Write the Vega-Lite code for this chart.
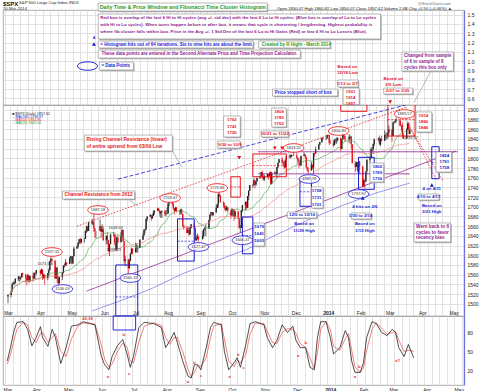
{
"$schema":"https://vega.github.io/schema/vega-lite/v6.json",
"padding":{"left":2,"top":0,"right":2,"bottom":1},
"background":"white",
"config":{"view":{"stroke":"#9a9a9a","strokeWidth":0.8},"font":"Liberation Sans","axis":{"labelFont":"Liberation Sans","labelFontSize":5,"labelColor":"#222","ticks":false,"domain":false,"gridColor":"#d6d6d6","gridWidth":0.7,"title":null},"axisY":{"labelOverlap":false,"labelSeparation":0},"text":{"font":"Liberation Sans"}},
"datasets":{
"px":[
{"d":"2013-03-01","o":1515,"h":1519,"l":1501,"c":1518},{"d":"2013-03-04","o":1518,"h":1525,"l":1513,"c":1525},{"d":"2013-03-05","o":1525,"h":1544,"l":1525,"c":1540},{"d":"2013-03-06","o":1540,"h":1546,"l":1538,"c":1542},{"d":"2013-03-07","o":1542,"h":1546,"l":1539,"c":1544},{"d":"2013-03-08","o":1544,"h":1553,"l":1541,"c":1551},{"d":"2013-03-11","o":1551,"h":1557,"l":1547,"c":1556},{"d":"2013-03-12","o":1556,"h":1556,"l":1545,"c":1552},{"d":"2013-03-13","o":1552,"h":1556,"l":1548,"c":1554},{"d":"2013-03-14","o":1554,"h":1563,"l":1554,"c":1563},{"d":"2013-03-15","o":1563,"h":1564,"l":1555,"c":1561},{"d":"2013-03-18","o":1561,"h":1561,"l":1544,"c":1552},{"d":"2013-03-19","o":1552,"h":1557,"l":1538,"c":1548},{"d":"2013-03-20","o":1548,"h":1562,"l":1548,"c":1559},{"d":"2013-03-21","o":1559,"h":1559,"l":1542,"c":1546},{"d":"2013-03-22","o":1546,"h":1557,"l":1546,"c":1557},{"d":"2013-03-25","o":1557,"h":1564,"l":1546,"c":1552},{"d":"2013-03-26","o":1552,"h":1564,"l":1552,"c":1564},{"d":"2013-03-27","o":1564,"h":1564,"l":1551,"c":1563},{"d":"2013-03-28","o":1563,"h":1570,"l":1559,"c":1569},
{"d":"2013-04-01","o":1569,"h":1570,"l":1558,"c":1562},{"d":"2013-04-02","o":1562,"h":1573,"l":1562,"c":1570},{"d":"2013-04-03","o":1570,"h":1571,"l":1549,"c":1554},{"d":"2013-04-04","o":1554,"h":1562,"l":1552,"c":1560},{"d":"2013-04-05","o":1560,"h":1560,"l":1539,"c":1553},{"d":"2013-04-08","o":1553,"h":1563,"l":1549,"c":1563},{"d":"2013-04-09","o":1563,"h":1573,"l":1557,"c":1569},{"d":"2013-04-10","o":1569,"h":1589,"l":1569,"c":1588},{"d":"2013-04-11","o":1588,"h":1597,"l":1586,"c":1593},{"d":"2013-04-12","o":1593,"h":1593,"l":1580,"c":1589},{"d":"2013-04-15","o":1589,"h":1589,"l":1552,"c":1552},{"d":"2013-04-16","o":1552,"h":1575,"l":1552,"c":1575},{"d":"2013-04-17","o":1575,"h":1575,"l":1543,"c":1552},{"d":"2013-04-18","o":1552,"h":1556,"l":1536,"c":1542},{"d":"2013-04-19","o":1542,"h":1556,"l":1542,"c":1555},{"d":"2013-04-22","o":1555,"h":1565,"l":1549,"c":1563},{"d":"2013-04-23","o":1563,"h":1579,"l":1563,"c":1579},{"d":"2013-04-24","o":1579,"h":1583,"l":1575,"c":1579},{"d":"2013-04-25","o":1579,"h":1592,"l":1579,"c":1585},{"d":"2013-04-26","o":1585,"h":1586,"l":1577,"c":1582},{"d":"2013-04-29","o":1582,"h":1597,"l":1582,"c":1594},{"d":"2013-04-30","o":1594,"h":1598,"l":1587,"c":1598},
{"d":"2013-05-01","o":1598,"h":1598,"l":1581,"c":1583},{"d":"2013-05-02","o":1583,"h":1598,"l":1583,"c":1598},{"d":"2013-05-03","o":1598,"h":1618,"l":1598,"c":1614},{"d":"2013-05-06","o":1614,"h":1620,"l":1613,"c":1618},{"d":"2013-05-07","o":1618,"h":1627,"l":1615,"c":1626},{"d":"2013-05-08","o":1626,"h":1633,"l":1623,"c":1633},{"d":"2013-05-09","o":1633,"h":1636,"l":1623,"c":1627},{"d":"2013-05-10","o":1627,"h":1634,"l":1624,"c":1634},{"d":"2013-05-13","o":1634,"h":1636,"l":1626,"c":1634},{"d":"2013-05-14","o":1634,"h":1651,"l":1634,"c":1650},{"d":"2013-05-15","o":1650,"h":1661,"l":1646,"c":1659},{"d":"2013-05-16","o":1659,"h":1661,"l":1648,"c":1650},{"d":"2013-05-17","o":1650,"h":1668,"l":1650,"c":1668},{"d":"2013-05-20","o":1668,"h":1672,"l":1664,"c":1666},{"d":"2013-05-21","o":1666,"h":1675,"l":1662,"c":1669},{"d":"2013-05-22","o":1669,"h":1687,"l":1648,"c":1655},{"d":"2013-05-23","o":1655,"h":1656,"l":1636,"c":1650},{"d":"2013-05-24","o":1650,"h":1650,"l":1635,"c":1650},{"d":"2013-05-28","o":1650,"h":1674,"l":1650,"c":1660},{"d":"2013-05-29","o":1660,"h":1660,"l":1636,"c":1648},{"d":"2013-05-30","o":1648,"h":1664,"l":1648,"c":1654},{"d":"2013-05-31","o":1654,"h":1660,"l":1630,"c":1631},
{"d":"2013-06-03","o":1631,"h":1641,"l":1622,"c":1640},{"d":"2013-06-04","o":1640,"h":1647,"l":1623,"c":1631},{"d":"2013-06-05","o":1631,"h":1632,"l":1606,"c":1609},{"d":"2013-06-06","o":1609,"h":1623,"l":1598,"c":1623},{"d":"2013-06-07","o":1623,"h":1644,"l":1623,"c":1643},{"d":"2013-06-10","o":1643,"h":1648,"l":1639,"c":1643},{"d":"2013-06-11","o":1643,"h":1643,"l":1621,"c":1626},{"d":"2013-06-12","o":1626,"h":1641,"l":1610,"c":1612},{"d":"2013-06-13","o":1612,"h":1639,"l":1608,"c":1636},{"d":"2013-06-14","o":1636,"h":1641,"l":1625,"c":1627},{"d":"2013-06-17","o":1627,"h":1648,"l":1627,"c":1639},{"d":"2013-06-18","o":1639,"h":1654,"l":1639,"c":1652},{"d":"2013-06-19","o":1652,"h":1653,"l":1628,"c":1629},{"d":"2013-06-20","o":1629,"h":1629,"l":1583,"c":1588},{"d":"2013-06-21","o":1588,"h":1599,"l":1577,"c":1592},{"d":"2013-06-24","o":1592,"h":1592,"l":1560,"c":1573},{"d":"2013-06-25","o":1573,"h":1593,"l":1573,"c":1588},{"d":"2013-06-26","o":1588,"h":1605,"l":1588,"c":1603},{"d":"2013-06-27","o":1603,"h":1616,"l":1603,"c":1613},{"d":"2013-06-28","o":1613,"h":1615,"l":1601,"c":1606},
{"d":"2013-07-01","o":1606,"h":1626,"l":1606,"c":1614},{"d":"2013-07-02","o":1614,"h":1624,"l":1606,"c":1614},{"d":"2013-07-03","o":1614,"h":1621,"l":1605,"c":1615},{"d":"2013-07-05","o":1615,"h":1633,"l":1615,"c":1632},{"d":"2013-07-08","o":1632,"h":1645,"l":1632,"c":1641},{"d":"2013-07-09","o":1641,"h":1654,"l":1641,"c":1652},{"d":"2013-07-10","o":1652,"h":1655,"l":1646,"c":1653},{"d":"2013-07-11","o":1653,"h":1676,"l":1653,"c":1675},{"d":"2013-07-12","o":1675,"h":1680,"l":1670,"c":1680},{"d":"2013-07-15","o":1680,"h":1685,"l":1679,"c":1683},{"d":"2013-07-16","o":1683,"h":1683,"l":1671,"c":1676},{"d":"2013-07-17","o":1676,"h":1685,"l":1676,"c":1681},{"d":"2013-07-18","o":1681,"h":1693,"l":1681,"c":1689},{"d":"2013-07-19","o":1689,"h":1692,"l":1684,"c":1692},{"d":"2013-07-22","o":1692,"h":1698,"l":1692,"c":1696},{"d":"2013-07-23","o":1696,"h":1698,"l":1690,"c":1692},{"d":"2013-07-24","o":1692,"h":1694,"l":1680,"c":1686},{"d":"2013-07-25","o":1686,"h":1691,"l":1677,"c":1690},{"d":"2013-07-26","o":1690,"h":1692,"l":1677,"c":1692},{"d":"2013-07-29","o":1692,"h":1692,"l":1681,"c":1685},{"d":"2013-07-30","o":1685,"h":1693,"l":1680,"c":1686},{"d":"2013-07-31","o":1686,"h":1698,"l":1684,"c":1686},
{"d":"2013-08-01","o":1686,"h":1707,"l":1686,"c":1707},{"d":"2013-08-02","o":1707,"h":1710,"l":1701,"c":1710},{"d":"2013-08-05","o":1710,"h":1710,"l":1703,"c":1707},{"d":"2013-08-06","o":1707,"h":1707,"l":1694,"c":1697},{"d":"2013-08-07","o":1697,"h":1697,"l":1684,"c":1691},{"d":"2013-08-08","o":1691,"h":1700,"l":1691,"c":1698},{"d":"2013-08-09","o":1698,"h":1700,"l":1688,"c":1691},{"d":"2013-08-12","o":1691,"h":1693,"l":1684,"c":1690},{"d":"2013-08-13","o":1690,"h":1696,"l":1684,"c":1694},{"d":"2013-08-14","o":1694,"h":1696,"l":1684,"c":1685},{"d":"2013-08-15","o":1685,"h":1685,"l":1658,"c":1661},{"d":"2013-08-16","o":1661,"h":1663,"l":1652,"c":1656},{"d":"2013-08-19","o":1656,"h":1660,"l":1646,"c":1646},{"d":"2013-08-20","o":1646,"h":1659,"l":1646,"c":1652},{"d":"2013-08-21","o":1652,"h":1659,"l":1640,"c":1643},{"d":"2013-08-22","o":1643,"h":1659,"l":1643,"c":1657},{"d":"2013-08-23","o":1657,"h":1664,"l":1655,"c":1664},{"d":"2013-08-26","o":1664,"h":1669,"l":1656,"c":1657},{"d":"2013-08-27","o":1657,"h":1657,"l":1630,"c":1631},{"d":"2013-08-28","o":1631,"h":1641,"l":1629,"c":1635},{"d":"2013-08-29","o":1635,"h":1645,"l":1632,"c":1638},{"d":"2013-08-30","o":1638,"h":1641,"l":1627,"c":1633},
{"d":"2013-09-03","o":1633,"h":1651,"l":1633,"c":1640},{"d":"2013-09-04","o":1640,"h":1655,"l":1637,"c":1653},{"d":"2013-09-05","o":1653,"h":1658,"l":1651,"c":1655},{"d":"2013-09-06","o":1655,"h":1664,"l":1640,"c":1655},{"d":"2013-09-09","o":1655,"h":1673,"l":1655,"c":1672},{"d":"2013-09-10","o":1672,"h":1684,"l":1672,"c":1684},{"d":"2013-09-11","o":1684,"h":1689,"l":1681,"c":1689},{"d":"2013-09-12","o":1689,"h":1689,"l":1680,"c":1683},{"d":"2013-09-13","o":1683,"h":1689,"l":1681,"c":1688},{"d":"2013-09-16","o":1688,"h":1704,"l":1688,"c":1698},{"d":"2013-09-17","o":1698,"h":1706,"l":1697,"c":1705},{"d":"2013-09-18","o":1705,"h":1729,"l":1698,"c":1726},{"d":"2013-09-19","o":1726,"h":1730,"l":1720,"c":1722},{"d":"2013-09-20","o":1722,"h":1725,"l":1708,"c":1710},{"d":"2013-09-23","o":1710,"h":1711,"l":1698,"c":1702},{"d":"2013-09-24","o":1702,"h":1708,"l":1693,"c":1697},{"d":"2013-09-25","o":1697,"h":1702,"l":1690,"c":1693},{"d":"2013-09-26","o":1693,"h":1703,"l":1693,"c":1699},{"d":"2013-09-27","o":1699,"h":1699,"l":1688,"c":1692},{"d":"2013-09-30","o":1692,"h":1692,"l":1675,"c":1682},
{"d":"2013-10-01","o":1682,"h":1697,"l":1682,"c":1695},{"d":"2013-10-02","o":1695,"h":1696,"l":1680,"c":1694},{"d":"2013-10-03","o":1694,"h":1694,"l":1671,"c":1679},{"d":"2013-10-04","o":1679,"h":1692,"l":1675,"c":1691},{"d":"2013-10-07","o":1691,"h":1691,"l":1675,"c":1676},{"d":"2013-10-08","o":1676,"h":1677,"l":1655,"c":1656},{"d":"2013-10-09","o":1656,"h":1662,"l":1646,"c":1656},{"d":"2013-10-10","o":1656,"h":1693,"l":1656,"c":1693},{"d":"2013-10-11","o":1693,"h":1704,"l":1689,"c":1703},{"d":"2013-10-14","o":1703,"h":1711,"l":1692,"c":1710},{"d":"2013-10-15","o":1710,"h":1711,"l":1695,"c":1698},{"d":"2013-10-16","o":1698,"h":1722,"l":1698,"c":1722},{"d":"2013-10-17","o":1722,"h":1734,"l":1714,"c":1733},{"d":"2013-10-18","o":1733,"h":1745,"l":1733,"c":1745},{"d":"2013-10-21","o":1745,"h":1747,"l":1739,"c":1745},{"d":"2013-10-22","o":1745,"h":1759,"l":1743,"c":1755},{"d":"2013-10-23","o":1755,"h":1755,"l":1738,"c":1746},{"d":"2013-10-24","o":1746,"h":1753,"l":1743,"c":1752},{"d":"2013-10-25","o":1752,"h":1760,"l":1752,"c":1760},{"d":"2013-10-28","o":1760,"h":1764,"l":1758,"c":1762},{"d":"2013-10-29","o":1762,"h":1772,"l":1762,"c":1772},{"d":"2013-10-30","o":1772,"h":1775,"l":1758,"c":1763},{"d":"2013-10-31","o":1763,"h":1768,"l":1754,"c":1757},
{"d":"2013-11-01","o":1757,"h":1766,"l":1753,"c":1762},{"d":"2013-11-04","o":1762,"h":1768,"l":1760,"c":1768},{"d":"2013-11-05","o":1768,"h":1768,"l":1756,"c":1763},{"d":"2013-11-06","o":1763,"h":1771,"l":1763,"c":1771},{"d":"2013-11-07","o":1771,"h":1774,"l":1746,"c":1747},{"d":"2013-11-08","o":1747,"h":1771,"l":1746,"c":1771},{"d":"2013-11-11","o":1771,"h":1773,"l":1768,"c":1772},{"d":"2013-11-12","o":1772,"h":1772,"l":1764,"c":1768},{"d":"2013-11-13","o":1768,"h":1782,"l":1760,"c":1782},{"d":"2013-11-14","o":1782,"h":1791,"l":1780,"c":1791},{"d":"2013-11-15","o":1791,"h":1799,"l":1790,"c":1798},{"d":"2013-11-18","o":1798,"h":1803,"l":1790,"c":1792},{"d":"2013-11-19","o":1792,"h":1795,"l":1784,"c":1788},{"d":"2013-11-20","o":1788,"h":1794,"l":1777,"c":1781},{"d":"2013-11-21","o":1781,"h":1798,"l":1781,"c":1796},{"d":"2013-11-22","o":1796,"h":1805,"l":1795,"c":1805},{"d":"2013-11-25","o":1805,"h":1808,"l":1800,"c":1803},{"d":"2013-11-26","o":1803,"h":1808,"l":1800,"c":1803},{"d":"2013-11-27","o":1803,"h":1808,"l":1802,"c":1807},{"d":"2013-11-29","o":1807,"h":1814,"l":1805,"c":1806},
{"d":"2013-12-02","o":1806,"h":1811,"l":1799,"c":1801},{"d":"2013-12-03","o":1801,"h":1801,"l":1788,"c":1795},{"d":"2013-12-04","o":1795,"h":1800,"l":1779,"c":1793},{"d":"2013-12-05","o":1793,"h":1796,"l":1783,"c":1785},{"d":"2013-12-06","o":1785,"h":1806,"l":1785,"c":1805},{"d":"2013-12-09","o":1805,"h":1812,"l":1805,"c":1808},{"d":"2013-12-10","o":1808,"h":1808,"l":1800,"c":1803},{"d":"2013-12-11","o":1803,"h":1803,"l":1780,"c":1782},{"d":"2013-12-12","o":1782,"h":1782,"l":1772,"c":1776},{"d":"2013-12-13","o":1776,"h":1781,"l":1768,"c":1775},{"d":"2013-12-16","o":1775,"h":1793,"l":1775,"c":1787},{"d":"2013-12-17","o":1787,"h":1787,"l":1777,"c":1781},{"d":"2013-12-18","o":1781,"h":1811,"l":1768,"c":1811},{"d":"2013-12-19","o":1811,"h":1812,"l":1803,"c":1810},{"d":"2013-12-20","o":1810,"h":1824,"l":1810,"c":1818},{"d":"2013-12-23","o":1818,"h":1829,"l":1818,"c":1828},{"d":"2013-12-24","o":1828,"h":1834,"l":1828,"c":1833},{"d":"2013-12-26","o":1833,"h":1843,"l":1833,"c":1842},{"d":"2013-12-27","o":1842,"h":1844,"l":1839,"c":1841},{"d":"2013-12-30","o":1841,"h":1843,"l":1838,"c":1841},{"d":"2013-12-31","o":1841,"h":1849,"l":1841,"c":1848},
{"d":"2014-01-02","o":1848,"h":1848,"l":1827,"c":1832},{"d":"2014-01-03","o":1832,"h":1838,"l":1830,"c":1831},{"d":"2014-01-06","o":1831,"h":1837,"l":1823,"c":1827},{"d":"2014-01-07","o":1827,"h":1840,"l":1827,"c":1838},{"d":"2014-01-08","o":1838,"h":1841,"l":1831,"c":1837},{"d":"2014-01-09","o":1837,"h":1843,"l":1830,"c":1838},{"d":"2014-01-10","o":1838,"h":1843,"l":1834,"c":1842},{"d":"2014-01-13","o":1842,"h":1843,"l":1815,"c":1819},{"d":"2014-01-14","o":1819,"h":1839,"l":1819,"c":1839},{"d":"2014-01-15","o":1839,"h":1851,"l":1839,"c":1848},{"d":"2014-01-16","o":1848,"h":1848,"l":1842,"c":1846},{"d":"2014-01-17","o":1846,"h":1847,"l":1834,"c":1839},{"d":"2014-01-21","o":1839,"h":1850,"l":1831,"c":1844},{"d":"2014-01-22","o":1844,"h":1847,"l":1840,"c":1845},{"d":"2014-01-23","o":1845,"h":1845,"l":1820,"c":1829},{"d":"2014-01-24","o":1829,"h":1829,"l":1790,"c":1790},{"d":"2014-01-27","o":1790,"h":1794,"l":1772,"c":1782},{"d":"2014-01-28","o":1782,"h":1793,"l":1782,"c":1792},{"d":"2014-01-29","o":1792,"h":1792,"l":1771,"c":1774},{"d":"2014-01-30","o":1774,"h":1798,"l":1774,"c":1794},{"d":"2014-01-31","o":1794,"h":1794,"l":1770,"c":1783},
{"d":"2014-02-03","o":1783,"h":1784,"l":1740,"c":1742},{"d":"2014-02-04","o":1742,"h":1758,"l":1742,"c":1755},{"d":"2014-02-05","o":1755,"h":1755,"l":1738,"c":1752},{"d":"2014-02-06","o":1752,"h":1774,"l":1752,"c":1773},{"d":"2014-02-07","o":1773,"h":1798,"l":1773,"c":1797},{"d":"2014-02-10","o":1797,"h":1800,"l":1791,"c":1800},{"d":"2014-02-11","o":1800,"h":1823,"l":1800,"c":1819},{"d":"2014-02-12","o":1819,"h":1822,"l":1815,"c":1819},{"d":"2014-02-13","o":1819,"h":1830,"l":1809,"c":1830},{"d":"2014-02-14","o":1830,"h":1841,"l":1825,"c":1839},{"d":"2014-02-18","o":1839,"h":1843,"l":1835,"c":1841},{"d":"2014-02-19","o":1841,"h":1847,"l":1827,"c":1829},{"d":"2014-02-20","o":1829,"h":1842,"l":1825,"c":1840},{"d":"2014-02-21","o":1840,"h":1847,"l":1835,"c":1836},{"d":"2014-02-24","o":1836,"h":1858,"l":1836,"c":1848},{"d":"2014-02-25","o":1848,"h":1853,"l":1840,"c":1845},{"d":"2014-02-26","o":1845,"h":1853,"l":1839,"c":1845},{"d":"2014-02-27","o":1845,"h":1855,"l":1840,"c":1854},{"d":"2014-02-28","o":1854,"h":1868,"l":1848,"c":1860},
{"d":"2014-03-03","o":1860,"h":1860,"l":1834,"c":1846},{"d":"2014-03-04","o":1846,"h":1876,"l":1846,"c":1874},{"d":"2014-03-05","o":1874,"h":1876,"l":1871,"c":1874},{"d":"2014-03-06","o":1874,"h":1881,"l":1874,"c":1877},{"d":"2014-03-07","o":1877,"h":1884,"l":1874,"c":1878},{"d":"2014-03-10","o":1878,"h":1878,"l":1867,"c":1877},{"d":"2014-03-11","o":1877,"h":1882,"l":1866,"c":1868},{"d":"2014-03-12","o":1868,"h":1869,"l":1855,"c":1868},{"d":"2014-03-13","o":1868,"h":1874,"l":1841,"c":1846},{"d":"2014-03-14","o":1846,"h":1852,"l":1840,"c":1841},{"d":"2014-03-17","o":1841,"h":1862,"l":1841,"c":1859},{"d":"2014-03-18","o":1859,"h":1873,"l":1858,"c":1872},{"d":"2014-03-19","o":1872,"h":1875,"l":1850,"c":1861},{"d":"2014-03-20","o":1850,"h":1861,"l":1850,"c":1858}
],
"st":[
{"d":"2013-03-05","k":35,"s":30},{"d":"2013-03-08","k":56,"s":45},{"d":"2013-03-11","k":81,"s":66},{"d":"2013-03-14","k":96,"s":85},{"d":"2013-03-20","k":97,"s":96},{"d":"2013-03-24","k":85,"s":92},{"d":"2013-03-28","k":59,"s":72},{"d":"2013-04-01","k":72,"s":64},{"d":"2013-04-05","k":89,"s":78},{"d":"2013-04-07","k":72,"s":80},{"d":"2013-04-12","k":58,"s":65},{"d":"2013-04-16","k":85,"s":72},{"d":"2013-04-19","k":72,"s":78},{"d":"2013-04-24","k":31,"s":50},{"d":"2013-04-29","k":56,"s":42},{"d":"2013-05-04","k":90,"s":70},{"d":"2013-05-10","k":92,"s":90},{"d":"2013-05-15","k":97,"s":95},{"d":"2013-05-21","k":94,"s":95},{"d":"2013-05-26","k":92,"s":93},{"d":"2013-06-01","k":42,"s":60},{"d":"2013-06-04","k":29,"s":38},{"d":"2013-06-08","k":21,"s":25},{"d":"2013-06-11","k":42,"s":30},{"d":"2013-06-16","k":59,"s":50},{"d":"2013-06-21","k":69,"s":63},{"d":"2013-06-25","k":46,"s":57},{"d":"2013-06-28","k":25,"s":35},{"d":"2013-07-01","k":42,"s":32},{"d":"2013-07-06","k":88,"s":65},{"d":"2013-07-11","k":96,"s":90},{"d":"2013-07-20","k":94,"s":95},{"d":"2013-07-27","k":88,"s":91},{"d":"2013-07-31","k":56,"s":72},{"d":"2013-08-04","k":67,"s":61},{"d":"2013-08-08","k":80,"s":72},{"d":"2013-08-11","k":64,"s":72},{"d":"2013-08-16","k":35,"s":50},{"d":"2013-08-21","k":11,"s":22},{"d":"2013-08-24","k":8,"s":10},{"d":"2013-08-27","k":29,"s":17},{"d":"2013-08-30","k":29,"s":28},{"d":"2013-09-02","k":21,"s":26},{"d":"2013-09-07","k":56,"s":40},{"d":"2013-09-11","k":88,"s":72},{"d":"2013-09-14","k":96,"s":90},{"d":"2013-09-21","k":92,"s":94},{"d":"2013-09-24","k":50,"s":70},{"d":"2013-09-28","k":21,"s":35},{"d":"2013-10-03","k":32,"s":26},{"d":"2013-10-06","k":40,"s":36},{"d":"2013-10-09","k":25,"s":32},{"d":"2013-10-14","k":61,"s":45},{"d":"2013-10-18","k":94,"s":78},{"d":"2013-10-23","k":97,"s":95},{"d":"2013-10-31","k":92,"s":94},{"d":"2013-11-03","k":72,"s":82},{"d":"2013-11-08","k":56,"s":64},{"d":"2013-11-12","k":67,"s":62},{"d":"2013-11-17","k":92,"s":80},{"d":"2013-11-22","k":80,"s":86},{"d":"2013-11-27","k":90,"s":85},{"d":"2013-11-30","k":67,"s":78},{"d":"2013-12-04","k":56,"s":62},{"d":"2013-12-09","k":56,"s":56},{"d":"2013-12-13","k":25,"s":40},{"d":"2013-12-17","k":21,"s":23},{"d":"2013-12-20","k":72,"s":48},{"d":"2013-12-23","k":97,"s":85},{"d":"2013-12-28","k":97,"s":97},{"d":"2014-01-01","k":72,"s":85},{"d":"2014-01-04","k":46,"s":58},{"d":"2014-01-10","k":56,"s":52},{"d":"2014-01-15","k":83,"s":70},{"d":"2014-01-18","k":72,"s":78},{"d":"2014-01-21","k":35,"s":52},{"d":"2014-01-24","k":17,"s":26},{"d":"2014-01-29","k":17,"s":17},{"d":"2014-02-01","k":32,"s":24},{"d":"2014-02-04","k":72,"s":52},{"d":"2014-02-09","k":97,"s":85},{"d":"2014-02-13","k":94,"s":95},{"d":"2014-02-18","k":80,"s":87},{"d":"2014-02-23","k":75,"s":77},{"d":"2014-02-28","k":85,"s":80},{"d":"2014-03-03","k":80,"s":82},{"d":"2014-03-06","k":56,"s":68},{"d":"2014-03-11","k":42,"s":50},{"d":"2014-03-15","k":61,"s":52},{"d":"2014-03-20","k":40,"s":50}
],
"boxA":[
{"x1":"2013-05-29","x2":"2013-11-03","y1":1.625,"y2":1.539},
{"x1":"2013-05-29","x2":"2014-02-17","y1":1.507,"y2":1.239},
{"x1":"2013-05-29","x2":"2013-10-21","y1":1.217,"y2":1.142},
{"x1":"2013-10-26","x2":"2014-01-01","y1":1.217,"y2":1.142},
{"x1":"2013-05-29","x2":"2013-12-04","y1":1.12,"y2":1.034},
{"x1":"2013-05-30","x2":"2013-07-01","y1":0.991,"y2":0.906},
{"x1":"2014-03-09","x2":"2014-04-26","y1":1.099,"y2":0.895},
{"x1":"2014-01-08","x2":"2014-01-27","y1":0.798,"y2":0.723},
{"x1":"2014-01-13","x2":"2014-01-28","y1":0.712,"y2":0.533},
{"x1":"2013-11-08","x2":"2014-01-08","y1":0.701,"y2":0.626},
{"x1":"2014-02-20","x2":"2014-03-19","y1":0.712,"y2":0.648}
],
"boxB":[
{"x1":"2013-05-13","x2":"2013-08-05","y1":1848,"y2":1815},
{"x1":"2013-04-22","x2":"2013-06-30","y1":1732.6,"y2":1716},
{"x1":"2013-09-23","x2":"2013-10-09","y1":1887.3,"y2":1844},
{"x1":"2013-09-17","x2":"2013-10-09","y1":1835.7,"y2":1821.3},
{"x1":"2013-11-08","x2":"2013-11-22","y1":1903.8,"y2":1864.6},
{"x1":"2013-10-29","x2":"2013-11-24","y1":1856.4,"y2":1844},
{"x1":"2014-03-26","x2":"2014-04-10","y1":1895.6,"y2":1854.3},
{"x1":"2013-10-22","x2":"2013-11-01","y1":1666.6,"y2":1619},
{"x1":"2013-12-16","x2":"2013-12-27","y1":1740.8,"y2":1697.5},
{"x1":"2013-11-23","x2":"2013-12-21","y1":1689.3,"y2":1676.9},
{"x1":"2014-02-10","x2":"2014-02-23","y1":1790.3,"y2":1751.2},
{"x1":"2014-01-23","x2":"2014-02-11","y1":1687.2,"y2":1674.8},
{"x1":"2014-04-14","x2":"2014-04-29","y1":1813,"y2":1771.8},
{"x1":"2014-03-28","x2":"2014-04-17","y1":1726.4,"y2":1714},
{"x1":"2014-03-24","x2":"2014-04-28","y1":1666.6,"y2":1627.4}
]
},
"vconcat":[
{"width":461,"height":95,
"layer":[
{"data":{"name":"boxA"},"mark":{"type":"rect","fill":"#b5b5b5","xOffset":1.2,"x2Offset":1.2,"yOffset":1.2,"y2Offset":1.2},
"encoding":{"x":{"field":"x1","type":"temporal","scale":{"domain":[{"year":2013,"month":3,"date":1},{"year":2014,"month":5,"date":6}],"nice":false},"axis":{"orient":"bottom","labels":false,"grid":true,"tickCount":{"interval":"week","step":1}}},"x2":{"field":"x2"},
"y":{"field":"y1","type":"quantitative","scale":{"domain":[0.53,1.55],"nice":false,"zero":false},"axis":{"orient":"right","values":[0.6,0.7,0.8,0.9,1.0,1.1,1.2,1.3,1.4,1.5],"tickCount":50,"format":".1f","labelOverlap":false,"grid":true,"domain":true,"domainColor":"#6f6fe0","domainWidth":1.2,"labelPadding":3}},"y2":{"field":"y2"}}},
{"data":{"name":"boxA"},"mark":{"type":"rect","fill":"white","stroke":"#8a8a8a","strokeWidth":0.6},
"encoding":{"x":{"field":"x1","type":"temporal"},"x2":{"field":"x2"},"y":{"field":"y1","type":"quantitative"},"y2":{"field":"y2"}}},
{"data":{"values":[{"d":"2014-04-05","v":0.895},{"d":"2014-03-20","v":0.551}]},"mark":{"type":"line","color":"#888","strokeWidth":0.6},
"encoding":{"x":{"field":"d","type":"temporal"},"y":{"field":"v","type":"quantitative"}}},
{"data":{"values":[{"d":"2013-03-01","v":1.6467,"t":"$SPX"}]},"mark":{"type":"text","fontSize":6,"fontWeight":"bold","align":"left","baseline":"top","color":"#111"},
"encoding":{"x":{"field":"d","type":"temporal"},"y":{"field":"v","type":"quantitative"},"text":{"field":"t"}}},
{"data":{"values":[{"d":"2013-03-16","v":1.6198,"t":"S&P 500 Large Cap Index INDX"},{"d":"2013-03-01","v":1.5575,"t":"20-Mar-2014"},{"d":"2013-11-12","v":1.5575,"t":"Open 1850.07  High 1860.82  Low 1850.07  Close 1857.62  Volume 2.6B  Chg +0.50 (+0.46%) \u25b2"}]},"mark":{"type":"text","fontSize":4.2,"align":"left","color":"#222"},
"encoding":{"x":{"field":"d","type":"temporal"},"y":{"field":"v","type":"quantitative"},"text":{"field":"t"}}},
{"data":{"values":[{"d":"2014-03-24","v":1.6144,"t":"@StockCharts.com"}]},"mark":{"type":"text","fontSize":3.8,"align":"left","color":"#666"},
"encoding":{"x":{"field":"d","type":"temporal"},"y":{"field":"v","type":"quantitative"},"text":{"field":"t"}}},
{"data":{"values":[{"d":"2013-08-16","v":1.5822,"t":"Daily Time & Price Window and Fibonacci Time Cluster Histogram"}]},"mark":{"type":"text","fontSize":5.3,"fontWeight":"bold","align":"center","color":"#2c9a2c"},
"encoding":{"x":{"field":"d","type":"temporal"},"y":{"field":"v","type":"quantitative"},"text":{"field":"t"}}},
{"data":{"values":[
{"d":"2013-05-31","v":1.4673,"t":"Red box is overlap of the last 6 Hi to Hi cycles (avg +/- std dev) with the last 6 Lo to Hi cycles. (Blue box is overlap of Lo to Lo cycles","g":"note"},
{"d":"2013-05-31","v":1.3889,"t":"with Hi to Lo cycles). When turns happen before or after box, it means that cycle is shortening / lengthening. Highest probability is","g":"note"},
{"d":"2013-05-31","v":1.3169,"t":"where fib cluster falls within box. Price in the Avg +/- 1 Std Dev of the last 6 Lo to Hi Gains (Red) or last 6 Hi to Lo Losses (Blue).","g":"note"}]},
"mark":{"type":"text","fontSize":4.4,"fontWeight":"bold","align":"left"},
"encoding":{"x":{"field":"d","type":"temporal"},"y":{"field":"v","type":"quantitative"},"text":{"field":"t"},"color":{"field":"g","type":"nominal","scale":{"domain":["hi","lo","note","credit","plain"],"range":["#e8141c","#1b1bd1","#8e1b8e","#2c9a2c","#222222"]},"legend":null}}},
{"data":{"values":[
{"d":"2013-05-31","v":1.1794,"t":"= Histogram hits out of 64 iterations. Six to nine hits are about the limit.","g":"lo"},
{"d":"2013-10-29","v":1.1794,"t":"Created by R Hight - March 2014","g":"credit"},
{"d":"2013-06-01","v":1.0774,"t":"These data points are entered in the Second Alternate Price and Time Projection Calculator.","g":"note"},
{"d":"2013-06-01","v":0.9485,"t":"= Data Points","g":"lo"},
{"d":"2014-03-11","v":1.0613,"t":"Changed from sample","g":"note"},
{"d":"2014-03-11","v":0.9968,"t":"of 6 to sample of 8","g":"note"},
{"d":"2014-03-11","v":0.9324,"t":"cycles this box only","g":"note"},
{"d":"2013-11-10","v":0.6638,"t":"Price stopped short of box","g":"lo"}]},
"mark":{"type":"text","fontSize":4.5,"fontWeight":"bold","align":"left"},
"encoding":{"x":{"field":"d","type":"temporal"},"y":{"field":"v","type":"quantitative"},"text":{"field":"t"},"color":{"field":"g","type":"nominal","scale":{"domain":["hi","lo","note","credit","plain"],"range":["#e8141c","#1b1bd1","#8e1b8e","#2c9a2c","#222222"]},"legend":null}}},
{"data":{"values":[
{"d":"2013-05-25","v":1.2546,"t":"4","g":"lo"},
{"d":"2014-01-17","v":0.9378,"t":"Based on","g":"hi"},
{"d":"2014-01-17","v":0.8733,"t":"12/18 Low","g":"hi"},
{"d":"2014-01-17","v":0.7605,"t":"1/13 to 2/7","g":"hi"},
{"d":"2014-01-20","v":0.6692,"t":"1931","g":"hi"},
{"d":"2014-01-20","v":0.6048,"t":"1914","g":"hi"},
{"d":"2014-01-20","v":0.5403,"t":"1897","g":"hi"},
{"d":"2014-03-01","v":0.8142,"t":"Based on","g":"hi"},
{"d":"2014-03-01","v":0.7497,"t":"2/5 Low","g":"hi"},
{"d":"2014-03-05","v":0.68,"t":"2/27 to 3/25","g":"hi"}]},
"mark":{"type":"text","fontSize":4.4,"fontWeight":"bold","align":"center"},
"encoding":{"x":{"field":"d","type":"temporal"},"y":{"field":"v","type":"quantitative"},"text":{"field":"t"},"color":{"field":"g","type":"nominal","scale":{"domain":["hi","lo","note","credit","plain"],"range":["#e8141c","#1b1bd1","#8e1b8e","#2c9a2c","#222222"]},"legend":null}}},
{"data":{"values":[{"d":"2013-05-19","v":0.9485}]},"mark":{"type":"point","shape":"M-1,0A1,0.42,0,1,0,1,0A1,0.42,0,1,0,-1,0Z","size":400,"stroke":"#1b1bd1","strokeWidth":1,"filled":false,"opacity":1},
"encoding":{"x":{"field":"d","type":"temporal"},"y":{"field":"v","type":"quantitative"}}},
{"data":{"values":[{"d":"2013-05-25","v":1.1848,"g":"lo"},{"d":"2014-02-26","v":0.562,"g":"hi"}]},"mark":{"type":"point","filled":true,"size":16,"opacity":1},
"encoding":{"x":{"field":"d","type":"temporal"},"y":{"field":"v","type":"quantitative"},"shape":{"field":"g","type":"nominal","scale":{"domain":["hi","lo"],"range":["triangle-down","triangle-up"]},"legend":null},"color":{"field":"g","type":"nominal","scale":{"domain":["hi","lo","note","credit","plain"],"range":["#e8141c","#1b1bd1","#8e1b8e","#2c9a2c","#222222"]},"legend":null}}}
]},
{"width":461,"height":211,
"layer":[
{"data":{"name":"px"},"mark":{"type":"rule","strokeWidth":0.7},
"encoding":{"x":{"field":"d","type":"temporal","scale":{"domain":[{"year":2013,"month":3,"date":1},{"year":2014,"month":5,"date":6}],"nice":false},"axis":{"orient":"bottom","tickCount":{"interval":"day","step":1},"grid":true,"gridColor":{"condition":{"test":"day(datum.value)==0","value":"#d6d6d6"},"value":"transparent"},"labelExpr":"date(datum.value)==1 ? (month(datum.value)==0 ? '2014' : timeFormat(datum.value,'%b')) : ''","labelOverlap":false,"labelBound":false,"labelFlush":true,"labelPadding":-6,"labelFontWeight":{"condition":{"test":"month(datum.value)==0","value":"bold"},"value":"normal"}}},
"y":{"field":"l","type":"quantitative","scale":{"domain":[1474.7,1910],"nice":false,"zero":false},"axis":{"orient":"right","values":[1500,1520,1540,1560,1580,1600,1620,1640,1660,1680,1700,1720,1740,1760,1780,1800,1820,1840,1860,1880,1900],"tickCount":50,"format":"d","labelOverlap":false,"labelSeparation":0,"grid":true,"domain":true,"domainColor":"#6f6fe0","domainWidth":1.2,"labelPadding":3}},"y2":{"field":"h"},
"color":{"condition":{"test":"datum.c < datum.o","value":"#e3121b"},"value":"#222"}}},
{"mark":{"type":"rect","fill":"white"},"encoding":{"y":{"datum":1485,"type":"quantitative"},"y2":{"datum":1474.7}}},
{"mark":{"type":"rule","color":"#9a9a9a","strokeWidth":0.8},"encoding":{"y":{"datum":1485,"type":"quantitative"}}},
{"data":{"name":"px"},"mark":{"type":"bar","width":1.3},
"encoding":{"x":{"field":"d","type":"temporal"},"y":{"field":"o","type":"quantitative"},"y2":{"field":"c"},"color":{"condition":{"test":"datum.c < datum.o","value":"#e3121b"},"value":"#222"}}},
{"data":{"name":"px"},"transform":[{"window":[{"op":"mean","field":"c","as":"m"}],"frame":[-19,0],"sort":[{"field":"d"}]}],"mark":{"type":"line","color":"#3c9a3c","strokeWidth":0.6,"clip":true},
"encoding":{"x":{"field":"d","type":"temporal"},"y":{"field":"m","type":"quantitative"}}},
{"data":{"name":"px"},"transform":[{"window":[{"op":"mean","field":"c","as":"m"}],"frame":[-49,0],"sort":[{"field":"d"}]}],"mark":{"type":"line","color":"#ee7777","strokeWidth":0.6,"clip":true},
"encoding":{"x":{"field":"d","type":"temporal"},"y":{"field":"m","type":"quantitative"}}},
{"data":{"values":[{"d":"2013-05-20","m":1485},{"d":"2013-06-15","m":1505},{"d":"2013-07-15","m":1530},{"d":"2013-08-15","m":1562},{"d":"2013-09-15","m":1588},{"d":"2013-10-15","m":1612},{"d":"2013-11-15","m":1645},{"d":"2013-12-15","m":1675},{"d":"2014-01-15","m":1703},{"d":"2014-02-15","m":1728},{"d":"2014-03-20","m":1749}]},"mark":{"type":"line","color":"#5555e0","strokeWidth":0.6,"clip":true},
"encoding":{"x":{"field":"d","type":"temporal"},"y":{"field":"m","type":"quantitative"}}},
{"data":{"values":[
{"id":"r1","g":"dot","d":"2013-05-06","p":1660},{"id":"r1","g":"dot","d":"2014-03-17","p":1906},
{"id":"r2","g":"dash","d":"2013-06-14","p":1757},{"id":"r2","g":"dash","d":"2014-03-16","p":1910},
{"id":"r3","g":"dot","d":"2014-03-15","p":1887},{"id":"r3","g":"dot","d":"2014-04-14","p":1757},
{"id":"r4","g":"dot","d":"2014-03-20","p":1862},{"id":"r4","g":"dot","d":"2014-04-21","p":1753},
{"id":"b1","g":"sup","d":"2013-05-15","p":1526},{"id":"b1","g":"sup","d":"2014-05-03","p":1815},
{"id":"b2","g":"sup","d":"2013-10-26","p":1813.55},{"id":"b2","g":"sup","d":"2014-05-05","p":1813.55},
{"id":"b3","g":"sup","d":"2013-10-26","p":1767.99},{"id":"b3","g":"sup","d":"2014-03-20","p":1767.99}]},
"mark":{"type":"line","strokeWidth":0.8,"clip":true},
"encoding":{"x":{"field":"d","type":"temporal"},"y":{"field":"p","type":"quantitative"},"detail":{"field":"id"},
"color":{"field":"g","type":"nominal","scale":{"domain":["hi","lo","note","credit","plain","dot","dash","sup"],"range":["#e8141c","#1b1bd1","#8e1b8e","#2c9a2c","#222222","#f03030","#f03030","#4646e6"]},"legend":null},
"strokeDash":{"field":"g","type":"nominal","scale":{"domain":["dot","dash","sup"],"range":[[1.5,1.5],[4,2],[1,0]]},"legend":null}}},
{"data":{"values":[
{"x1":"2013-06-12","x2":"2013-07-03","y1":1580,"y2":1474.7,"m":1514,"g":"lo"},
{"x1":"2013-08-10","x2":"2013-08-26","y1":1675,"y2":1588,"m":1629,"g":"lo"},
{"x1":"2013-10-11","x2":"2013-10-21","y1":1679,"y2":1603,"m":1641,"g":"lo"},
{"x1":"2013-12-05","x2":"2013-12-16","y1":1758,"y2":1701,"m":1731,"g":"lo"},
{"x1":"2014-01-30","x2":"2014-02-14","y1":1802,"y2":1736,"m":1769,"g":"lo"},
{"x1":"2014-04-10","x2":"2014-04-17","y1":1824,"y2":1758,"m":1791,"g":"lo"},
{"x1":"2013-09-30","x2":"2013-10-09","y1":1762,"y2":1720,"m":1741,"g":"hi"},
{"x1":"2013-10-21","x2":"2013-11-22","y1":1809,"y2":1762,"m":1785,"g":"hi"},
{"x1":"2014-01-13","x2":"2014-02-07","y1":1931,"y2":1897,"m":1914,"g":"hi"},
{"x1":"2014-02-27","x2":"2014-03-25","y1":1914,"y2":1846,"m":1880,"g":"hi"}]},
"layer":[
{"mark":{"type":"rect","filled":false,"strokeWidth":1,"clip":true},
"encoding":{"x":{"field":"x1","type":"temporal"},"x2":{"field":"x2"},"y":{"field":"y1","type":"quantitative"},"y2":{"field":"y2"},"color":{"field":"g","type":"nominal","scale":{"domain":["hi","lo","note","credit","plain","dot","dash","sup"],"range":["#e8141c","#1b1bd1","#8e1b8e","#2c9a2c","#222222","#f03030","#f03030","#4646e6"]},"legend":null}}},
{"mark":{"type":"rule","strokeWidth":0.7,"strokeDash":[2,1.5],"clip":true},
"encoding":{"x":{"field":"x1","type":"temporal"},"x2":{"field":"x2"},"y":{"field":"m","type":"quantitative"},"color":{"field":"g","type":"nominal","scale":{"domain":["hi","lo","note","credit","plain","dot","dash","sup"],"range":["#e8141c","#1b1bd1","#8e1b8e","#2c9a2c","#222222","#f03030","#f03030","#4646e6"]},"legend":null}}}
]},
{"data":{"values":[{"id":"c1","d":"2013-08-03","p":1823.4},{"id":"c1","d":"2013-08-14","p":1782},{"id":"c2","d":"2013-06-24","p":1716},{"id":"c2","d":"2013-07-03","p":1701.6}]},"mark":{"type":"line","color":"#888","strokeWidth":0.6},
"encoding":{"x":{"field":"d","type":"temporal"},"y":{"field":"p","type":"quantitative"},"detail":{"field":"id"}}},
{"data":{"values":[
{"d":"2013-04-12","p":1606.7,"t":"1597.35","k":"hi"},{"d":"2013-05-26","p":1693.4,"t":"1687.18","k":"hi"},{"d":"2013-08-03","p":1718.1,"t":"1709.67","k":"hi"},{"d":"2013-09-17","p":1738.8,"t":"1729.86","k":"hi"},{"d":"2013-11-29","p":1821.3,"t":"1813.55","k":"hi"},{"d":"2014-01-11","p":1856.4,"t":"1850.84","k":"hi"},{"d":"2014-03-15","p":1891.4,"t":"1883.57","k":"hi"},
{"d":"2013-04-22","p":1530.4,"t":"1536.03","k":"lo"},{"d":"2013-06-26","p":1553.1,"t":"1560.33","k":"lo"},{"d":"2013-08-30","p":1617.1,"t":"1627.47","k":"lo"},{"d":"2013-10-11","p":1631,"t":"1646.47","k":"lo"},{"d":"2013-12-14","p":1757.3,"t":"1767.99","k":"lo"},{"d":"2014-01-30","p":1726.4,"t":"1737.92","k":"lo"}]},
"layer":[
{"mark":{"type":"point","shape":"M-1,0A1,0.42,0,1,0,1,0A1,0.42,0,1,0,-1,0Z","size":420,"strokeWidth":0.9,"fill":"white","fillOpacity":0.75,"opacity":1},
"encoding":{"x":{"field":"d","type":"temporal"},"y":{"field":"p","type":"quantitative"},"stroke":{"field":"k","type":"nominal","scale":{"domain":["hi","lo"],"range":["#f02020","#2828e0"]},"legend":null}}},
{"mark":{"type":"text","fontSize":4,"color":"#333"},
"encoding":{"x":{"field":"d","type":"temporal"},"y":{"field":"p","type":"quantitative"},"text":{"field":"t"}}}
]},
{"data":{"values":[{"d":"2013-04-05","p":1582,"t":"1573.66"},{"d":"2013-06-12","p":1656,"t":"1648.69"},{"d":"2013-06-10","p":1611,"t":"1598.23"},{"d":"2014-03-21","p":1841,"t":"1839.57"}]},"mark":{"type":"text","fontSize":4,"color":"#333"},
"encoding":{"x":{"field":"d","type":"temporal"},"y":{"field":"p","type":"quantitative"},"text":{"field":"t"}}},
{"data":{"name":"boxB"},"mark":{"type":"rect","fill":"#b5b5b5","xOffset":1.2,"x2Offset":1.2,"yOffset":1.2,"y2Offset":1.2},
"encoding":{"x":{"field":"x1","type":"temporal"},"x2":{"field":"x2"},"y":{"field":"y1","type":"quantitative"},"y2":{"field":"y2"}}},
{"data":{"name":"boxB"},"mark":{"type":"rect","fill":"white","stroke":"#8a8a8a","strokeWidth":0.6},
"encoding":{"x":{"field":"x1","type":"temporal"},"x2":{"field":"x2"},"y":{"field":"y1","type":"quantitative"},"y2":{"field":"y2"}}},
{"data":{"values":[
{"d":"2013-10-01","p":1879,"t":"1762","g":"hi"},{"d":"2013-10-01","p":1865.6,"t":"1741","g":"hi"},{"d":"2013-10-01","p":1852.2,"t":"1720","g":"hi"},
{"d":"2013-09-29","p":1828.5,"t":"9/30 to 10/9","g":"hi"},
{"d":"2013-11-15","p":1895.6,"t":"1809","g":"hi"},{"d":"2013-11-15","p":1883.2,"t":"1785","g":"hi"},{"d":"2013-11-15","p":1870.8,"t":"1762","g":"hi"},
{"d":"2013-11-11","p":1850.2,"t":"10/21 to 11/22","g":"hi"},
{"d":"2014-04-02","p":1887.3,"t":"1914","g":"hi"},{"d":"2014-04-02","p":1874.9,"t":"1880","g":"hi"},{"d":"2014-04-02","p":1862.5,"t":"1846","g":"hi"},
{"d":"2013-10-27","p":1658.3,"t":"1679","g":"lo"},{"d":"2013-10-27","p":1643.9,"t":"1641","g":"lo"},{"d":"2013-10-27","p":1629.4,"t":"1603","g":"lo"},
{"d":"2013-12-21","p":1732.6,"t":"1758","g":"lo"},{"d":"2013-12-21","p":1718,"t":"1731","g":"lo"},{"d":"2013-12-21","p":1703.7,"t":"1701","g":"lo"},
{"d":"2013-12-07","p":1683.1,"t":"12/5 to 12/16","g":"lo"},
{"d":"2013-12-09","p":1664.5,"t":"Based on","g":"lo"},{"d":"2013-12-09","p":1650.1,"t":"11/29 High","g":"lo"},
{"d":"2014-02-17","p":1782,"t":"1802","g":"lo"},{"d":"2014-02-17","p":1769.7,"t":"1769","g":"lo"},{"d":"2014-02-17","p":1757.3,"t":"1736","g":"lo"},
{"d":"2014-02-05","p":1699.6,"t":"4 hits on 2/6","g":"lo"},
{"d":"2014-02-01","p":1681,"t":"1/30 to 2/14","g":"lo"},
{"d":"2014-02-05","p":1664.5,"t":"Based on","g":"lo"},{"d":"2014-02-05","p":1650.1,"t":"1/15 High","g":"lo"},
{"d":"2014-04-22","p":1804.8,"t":"1824","g":"lo"},{"d":"2014-04-22","p":1792.4,"t":"1791","g":"lo"},{"d":"2014-04-22","p":1780,"t":"1758","g":"lo"},
{"d":"2014-04-10","p":1736.7,"t":"4 on 4/11","g":"lo"},
{"d":"2014-04-07","p":1720.2,"t":"4/10 to 4/17","g":"lo"},
{"d":"2014-04-10","p":1701.6,"t":"Based on","g":"lo"},{"d":"2014-04-10","p":1689.3,"t":"3/21 High","g":"lo"}]},
"mark":{"type":"text","fontSize":4.4,"fontWeight":"bold","align":"center"},
"encoding":{"x":{"field":"d","type":"temporal"},"y":{"field":"p","type":"quantitative"},"text":{"field":"t"},"color":{"field":"g","type":"nominal","scale":{"domain":["hi","lo","note","credit","plain","dot","dash","sup"],"range":["#e8141c","#1b1bd1","#8e1b8e","#2c9a2c","#222222","#f03030","#f03030","#4646e6"]},"legend":null}}},
{"data":{"values":[
{"d":"2013-05-15","p":1837.8,"t":"Rising Channel Resistance (linear)","g":"hi"},
{"d":"2013-05-15","p":1823.4,"t":"of entire uptrend from 03/09 Low","g":"hi"}]},
"mark":{"type":"text","fontSize":4.9,"fontWeight":"bold","align":"left"},
"encoding":{"x":{"field":"d","type":"temporal"},"y":{"field":"p","type":"quantitative"},"text":{"field":"t"},"color":{"field":"g","type":"nominal","scale":{"domain":["hi","lo","note","credit","plain","dot","dash","sup"],"range":["#e8141c","#1b1bd1","#8e1b8e","#2c9a2c","#222222","#f03030","#f03030","#4646e6"]},"legend":null}}},
{"data":{"values":[
{"d":"2013-04-24","p":1724.3,"t":"Channel Resistance from 2012","g":"hi"},
{"d":"2014-03-26","p":1657.3,"t":"Went back to 6","g":"note"},
{"d":"2014-03-26","p":1645.9,"t":"cycles to favor","g":"note"},
{"d":"2014-03-26","p":1634.6,"t":"recency bias","g":"note"}]},
"mark":{"type":"text","fontSize":4.7,"fontWeight":"bold","align":"left"},
"encoding":{"x":{"field":"d","type":"temporal"},"y":{"field":"p","type":"quantitative"},"text":{"field":"t"},"color":{"field":"g","type":"nominal","scale":{"domain":["hi","lo","note","credit","plain","dot","dash","sup"],"range":["#e8141c","#1b1bd1","#8e1b8e","#2c9a2c","#222222","#f03030","#f03030","#4646e6"]},"legend":null}}},
{"data":{"values":[
{"d":"2013-03-05","p":1891.4,"t":"\u25a0 $SPX (Daily) 1857.62","g":"plain"},
{"d":"2013-03-05","p":1885.2,"t":"-- MA(200) 1748.97","g":"lo"},
{"d":"2013-03-05","p":1879.1,"t":"-- MA(50) 1834.85","g":"hi"},
{"d":"2013-03-05","p":1873,"t":"-- MA(20) 1863.05","g":"credit"}]},
"mark":{"type":"text","fontSize":3.6,"align":"left"},
"encoding":{"x":{"field":"d","type":"temporal"},"y":{"field":"p","type":"quantitative"},"text":{"field":"t"},"color":{"field":"g","type":"nominal","scale":{"domain":["hi","lo","note","credit","plain","dot","dash","sup"],"range":["#e8141c","#1b1bd1","#8e1b8e","#2c9a2c","#222222","#f03030","#f03030","#4646e6"]},"legend":null}}},
{"data":{"values":[{"d":"2013-11-11","p":1821,"g":"hi"},{"d":"2013-11-18","p":1821,"g":"hi"},{"d":"2013-10-08","p":1801,"g":"hi"},{"d":"2014-02-03","p":1718,"g":"lo"},{"d":"2014-04-10","p":1745,"g":"lo"}]},
"mark":{"type":"point","filled":true,"size":16,"opacity":1},
"encoding":{"x":{"field":"d","type":"temporal"},"y":{"field":"p","type":"quantitative"},"shape":{"field":"g","type":"nominal","scale":{"domain":["hi","lo"],"range":["triangle-down","triangle-up"]},"legend":null},"color":{"field":"g","type":"nominal","scale":{"domain":["hi","lo","note","credit","plain","dot","dash","sup"],"range":["#e8141c","#1b1bd1","#8e1b8e","#2c9a2c","#222222","#f03030","#f03030","#4646e6"]},"legend":null}}}
]},
{"width":461,"height":69,
"layer":[
{"mark":{"type":"rule","color":"#9a9a9a","strokeWidth":0.7},"encoding":{"y":{"datum":80,"type":"quantitative"}}},
{"mark":{"type":"rule","color":"#9a9a9a","strokeWidth":0.7},"encoding":{"y":{"datum":20,"type":"quantitative"}}},
{"mark":{"type":"rule","color":"#9a9a9a","strokeWidth":0.7,"strokeDash":[4,2,1,2]},"encoding":{"y":{"datum":50,"type":"quantitative"}}},
{"data":{"name":"st"},"mark":{"type":"line","color":"#f06060","strokeWidth":0.8},
"encoding":{"x":{"field":"d","type":"temporal","scale":{"domain":[{"year":2013,"month":3,"date":1},{"year":2014,"month":5,"date":6}],"nice":false},"axis":{"orient":"bottom","tickCount":{"interval":"day","step":1},"grid":true,"gridColor":{"condition":{"test":"day(datum.value)==0","value":"#d6d6d6"},"value":"transparent"},"labelExpr":"date(datum.value)==1 ? (month(datum.value)==0 ? '2014' : timeFormat(datum.value,'%b')) : ''","labelOverlap":false,"labelBound":false,"labelFlush":true,"labelPadding":2,"labelFontWeight":{"condition":{"test":"month(datum.value)==0","value":"bold"},"value":"normal"}}},
"y":{"field":"s","type":"quantitative","scale":{"domain":[-3,106],"nice":false,"zero":false},"axis":{"orient":"right","values":[20,50,80],"tickCount":20,"grid":false,"domain":true,"domainColor":"#6f6fe0","domainWidth":1.2,"labelPadding":3}}}},
{"data":{"name":"st"},"mark":{"type":"line","color":"#222","strokeWidth":0.8},
"encoding":{"x":{"field":"d","type":"temporal"},"y":{"field":"k","type":"quantitative"}}},
{"data":{"values":[{"x1":"2013-06-12","x2":"2013-07-03","y1":106,"y2":83.9}]},"mark":{"type":"rect","filled":false,"stroke":"#2828e0","strokeWidth":1},
"encoding":{"x":{"field":"x1","type":"temporal"},"x2":{"field":"x2"},"y":{"field":"y1","type":"quantitative"},"y2":{"field":"y2"}}},
{"data":{"values":[{"d":"2013-06-07","v":9.6,"t":"a"},{"d":"2013-06-22","v":76,"t":"b"},{"d":"2013-06-27","v":14.4,"t":"c"},{"d":"2013-08-21","v":2,"t":"a"},{"d":"2013-08-27","v":31.7,"t":"b"},{"d":"2013-09-02","v":11.2,"t":"c"},{"d":"2013-09-29","v":9.6,"t":"a"},{"d":"2013-10-07","v":44.4,"t":"b"},{"d":"2013-10-12","v":23.8,"t":"c"},{"d":"2013-12-02","v":42.8,"t":"a"},{"d":"2013-12-09","v":63.3,"t":"b"},{"d":"2014-01-24","v":9.6,"t":"a"},{"d":"2014-01-28","v":25.4,"t":"b"},{"d":"2014-03-05","v":34.9,"t":"a?"},{"d":"2013-05-19","v":101,"t":"42.38"}]},
"mark":{"type":"text","fontSize":4.2,"fontWeight":"bold","color":"#ee3030"},
"encoding":{"x":{"field":"d","type":"temporal"},"y":{"field":"v","type":"quantitative"},"text":{"field":"t"}}}
]}
],
"spacing":0,
"bounds":"flush"
}
